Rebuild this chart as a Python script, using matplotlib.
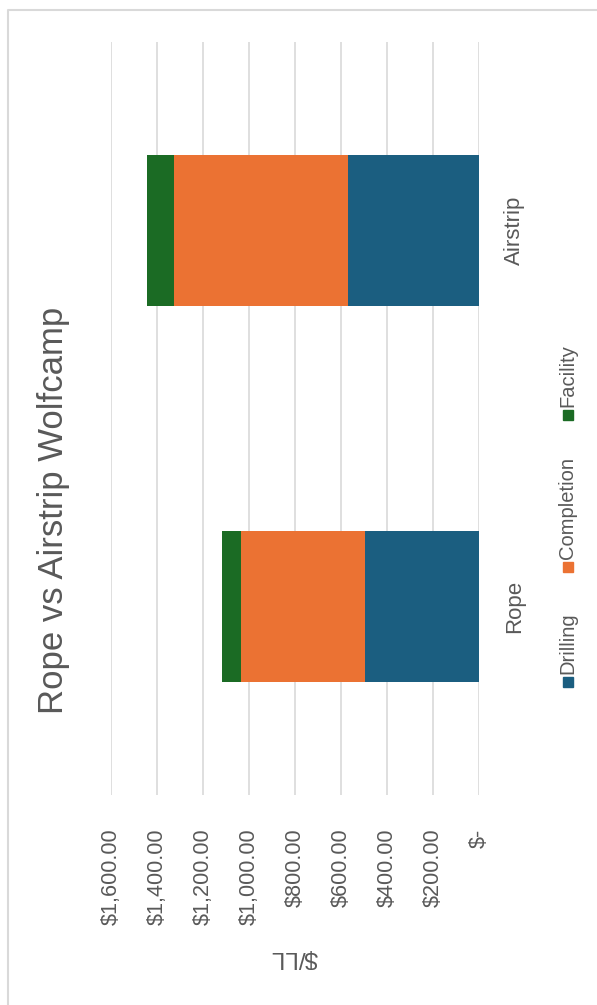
import matplotlib.pyplot as plt
from matplotlib.lines import Line2D
from matplotlib.patches import Rectangle

categories = ['Rope', 'Airstrip']
drilling = [496, 570]
completion = [539, 756]
facility = [83, 117]
series_names = ['Drilling', 'Completion', 'Facility']
colors = ['#1b5e80', '#eb7233', '#1b6b24']
tick_values = [0, 200, 400, 600, 800, 1000, 1200, 1400, 1600]
tick_labels = ['$-', '$200.00', '$400.00', '$600.00', '$800.00',
               '$1,000.00', '$1,200.00', '$1,400.00', '$1,600.00']

plt.rcParams['font.family'] = ['Liberation Sans', 'DejaVu Sans']
text_color = '#595959'

W, H = 597, 1005
fig = plt.figure(figsize=(W / 100, H / 100), dpi=100)

# chart border: only the left and top edges show in the (rotated) screenshot
fig.add_artist(Line2D([8 / W, 8 / W, 1], [0, 1 - 10 / H, 1 - 10 / H],
                      transform=fig.transFigure, color='#d9d9d9', lw=1.5))

ax = fig.add_axes([111 / W, 1 - 795 / H, (479 - 111) / W, (795 - 42) / H])

y = list(range(len(categories)))
left = [0] * len(categories)
for vals, name, c in zip([drilling, completion, facility], series_names, colors):
    ax.barh(y, vals, left=left, height=0.4, color=c, label=name, zorder=3)
    left = [a + b for a, b in zip(left, vals)]

ax.set_xlim(1600, 0)
ax.set_ylim(-0.5, 1.5)
ax.set_xticks(tick_values)
ax.set_xticklabels(tick_labels, rotation=90, fontsize=15.6, color=text_color)
ax.tick_params(axis='x', length=0, pad=24)
ax.grid(axis='x', color='#d9d9d9', lw=1.2, zorder=0)

ax.yaxis.tick_right()
ax.set_yticks(y)
ax.set_yticklabels(categories, rotation=90, fontsize=16, color=text_color)
plt.setp(ax.get_yticklabels(), va='center')
ax.tick_params(axis='y', length=0, pad=18)

for s in ax.spines.values():
    s.set_visible(False)

fig.text(54 / W, 1 - 510 / H, 'Rope vs Airstrip Wolfcamp', rotation=90,
         ha='center', va='center', fontsize=25, color=text_color)
fig.text(294 / W, 1 - 957 / H, '$/LL', rotation=180,
         ha='center', va='center', fontsize=17.5, color=text_color)

# legend drawn by hand so it can run vertically
legend_y = [682, 567, 415]
for name, c, ly in zip(series_names, colors, legend_y):
    fig.patches.append(Rectangle((563 / W, 1 - (ly + 5) / H), 10 / W, 10 / H,
                                 transform=fig.transFigure, color=c))
    fig.text(568 / W, 1 - (ly - 8) / H, name, rotation=90, ha='center', va='bottom',
             fontsize=14.5, color=text_color)

fig.savefig('out.png', dpi=100)
